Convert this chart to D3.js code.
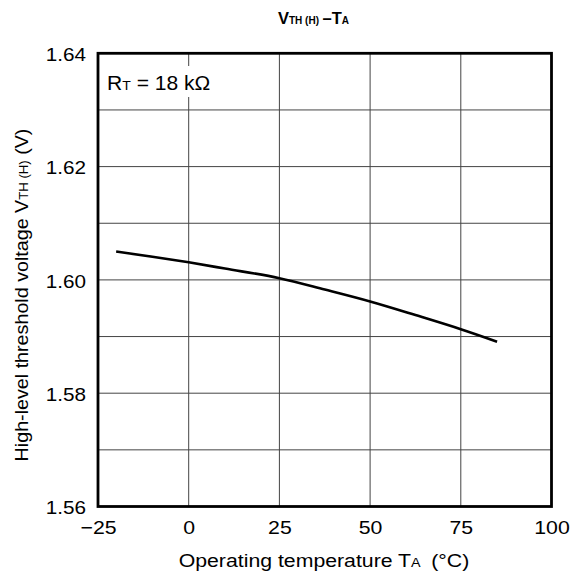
<!DOCTYPE html>
<html><head><meta charset="utf-8">
<script src="https://cdn.jsdelivr.net/npm/d3@7"></script>
<style>body{margin:0;background:#fff}text{font-family:"Liberation Sans",Arial,sans-serif}</style>
</head><body>
<script>
const temps = [-20, -10, 0, 10, 25, 37.5, 50, 62.5, 75, 85];
const vth = [1.6050, 1.6041, 1.6031, 1.6020, 1.6003, 1.5983, 1.5962, 1.5938, 1.5913, 1.5891];
const xTicks = [-25, 0, 25, 50, 75, 100];
const yTicks = [1.56, 1.58, 1.60, 1.62, 1.64];
const yGrid = [1.57, 1.58, 1.59, 1.60, 1.61, 1.62, 1.63];
const xGrid = [0, 25, 50, 75];

const W = 571, H = 579, SX = 1.15;
const svg = d3.select("body").append("svg").attr("width", W).attr("height", H);
const x = d3.scaleLinear().domain([-25, 100]).range([98, 551.5]);
const y = d3.scaleLinear().domain([1.56, 1.64]).range([506.5, 53.3]);

// grid
svg.append("g").selectAll("line").data(yGrid).join("line")
  .attr("x1", x(-25)).attr("x2", x(100)).attr("y1", d => y(d)).attr("y2", d => y(d))
  .attr("stroke", "#444").attr("stroke-width", 1);
svg.append("g").selectAll("line").data(xGrid).join("line")
  .attr("y1", y(1.56)).attr("y2", y(1.64)).attr("x1", d => x(d)).attr("x2", d => x(d))
  .attr("stroke", "#444").attr("stroke-width", 1);

// annotation with white background
svg.append("rect").attr("x", 104).attr("y", 66).attr("width", 112).attr("height", 31).attr("fill", "#fff");
const ann = svg.append("text").attr("transform", "translate(107,90) scale(1.08,1)").attr("font-size", 19.5).attr("fill", "#000");
ann.append("tspan").text("R");
ann.append("tspan").attr("font-size", 13).text("T");
ann.append("tspan").text(" = 18 k\u03A9");

// frame
svg.append("rect").attr("x", x(-25)).attr("y", y(1.64)).attr("width", x(100) - x(-25)).attr("height", y(1.56) - y(1.64))
  .attr("fill", "none").attr("stroke", "#000").attr("stroke-width", 2.8);

// axes
const xAxis = svg.append("g").attr("transform", `translate(0,${y(1.56)})`)
  .call(d3.axisBottom(x).tickValues(xTicks).tickSize(0).tickPadding(14).tickFormat(d => d < 0 ? "\u2212" + Math.abs(d) : d));
xAxis.select(".domain").remove();
xAxis.selectAll("text").attr("font-size", 18.5).attr("fill", "#000")
  .attr("font-family", "Liberation Sans, Arial, sans-serif").attr("transform", `scale(${SX},1)`);

const yAxis = svg.append("g").attr("transform", `translate(${x(-25)},0)`)
  .call(d3.axisLeft(y).tickValues(yTicks).tickSize(0).tickPadding(10.5).tickFormat(d3.format(".2f")));
yAxis.select(".domain").remove();
yAxis.selectAll("text").attr("font-size", 18).attr("fill", "#000").attr("dy", "0.4em")
  .attr("font-family", "Liberation Sans, Arial, sans-serif").attr("transform", `scale(${SX},1)`);

// curve
const line = d3.line().x(d => x(d[0])).y(d => y(d[1])).curve(d3.curveMonotoneX);
svg.append("path").datum(temps.map((t, i) => [t, vth[i]])).attr("d", line)
  .attr("fill", "none").attr("stroke", "#000").attr("stroke-width", 2.6);

// title
const t = svg.append("text").attr("x", 278).attr("y", 23.5)
  .attr("font-weight", "bold").attr("font-size", 16.5).attr("fill", "#000");
t.append("tspan").text("V");
t.append("tspan").attr("font-size", 10).text("TH (H)");
t.append("tspan").attr("dx", -1).text(" \u2013T");
t.append("tspan").attr("font-size", 10).text("A");

// x title
const xt = svg.append("text").attr("transform", `translate(324,567) scale(${SX},1)`).attr("text-anchor", "middle").attr("font-size", 18.5).attr("fill", "#000");
xt.append("tspan").text("Operating temperature T");
xt.append("tspan").attr("font-size", 12.5).text("A");
xt.append("tspan").text("\u2002(\u00B0C)");

// y title
const yt = svg.append("text").attr("transform", "translate(28,295) rotate(-90) scale(1.095,1)").attr("text-anchor", "middle").attr("font-size", 18).attr("fill", "#000");
yt.append("tspan").text("High-level threshold voltage V");
yt.append("tspan").attr("font-size", 12).text("TH (H)");
yt.append("tspan").text(" (V)");
</script>
</body></html>
